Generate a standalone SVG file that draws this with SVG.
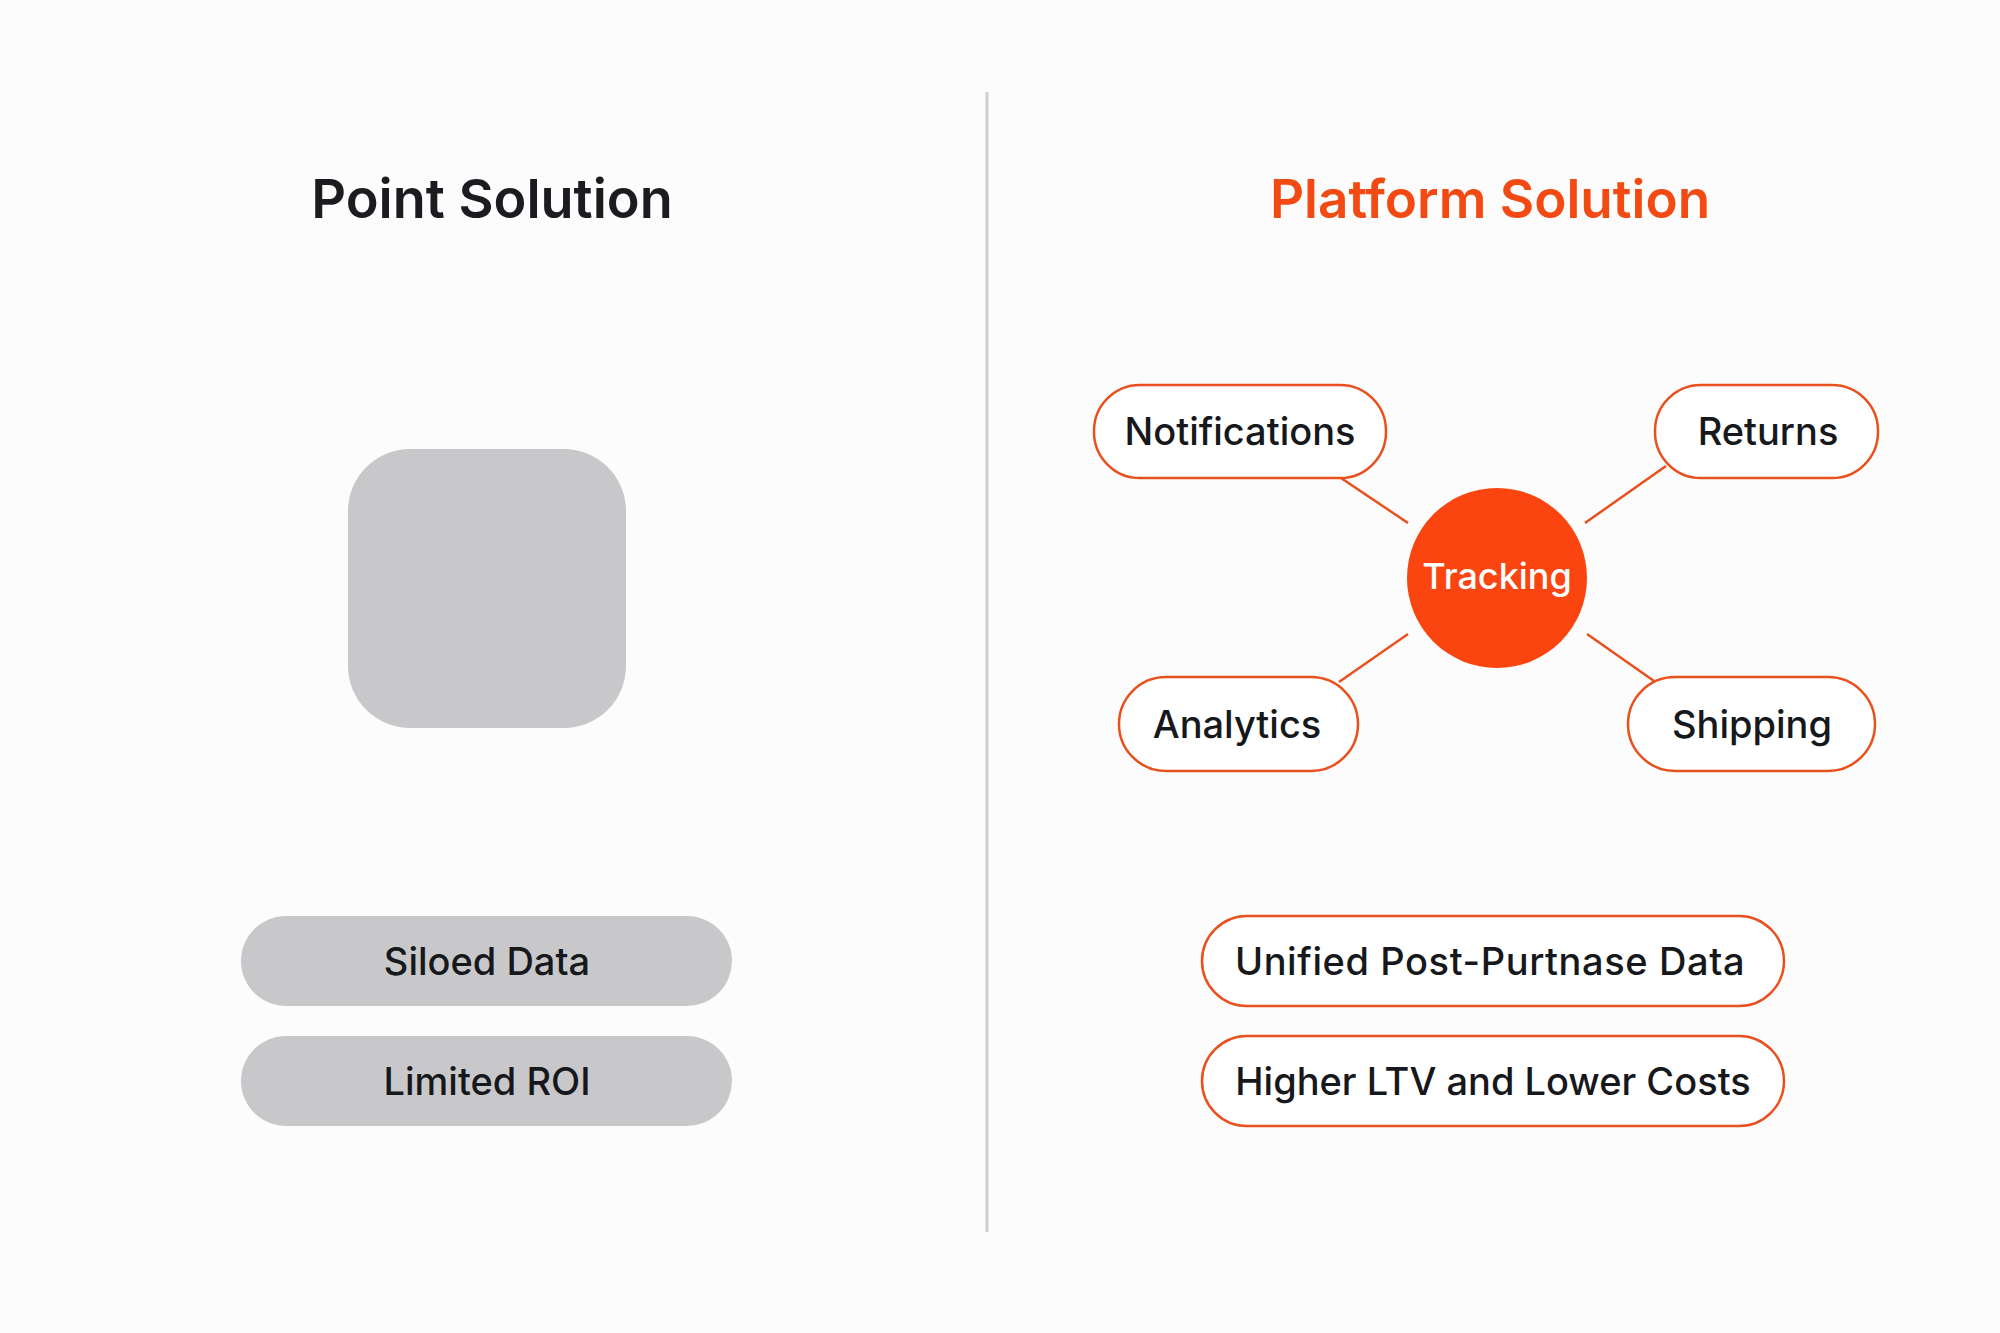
<svg xmlns="http://www.w3.org/2000/svg" width="2000" height="1333" viewBox="0 0 2000 1333">
<style>
.title{font-family:Inter,"Noto Sans","Liberation Sans",sans-serif;font-weight:600;font-size:54px;text-anchor:middle}
.lbl{font-family:Inter,"Noto Sans","Liberation Sans",sans-serif;font-weight:500;font-size:38px;fill:#16181c;text-anchor:middle;dominant-baseline:central}
.grey{fill:#c8c8ca}
.opill{fill:#ffffff;stroke:#e8501e;stroke-width:2.5}
.conn{stroke:#e8501e;stroke-width:2.5;fill:none}
</style>
<rect x="0" y="0" width="2000" height="1333" fill="#fcfcfc"/>
<line x1="987" y1="92" x2="987" y2="1232" stroke="#cfcfcf" stroke-width="3"/>
<g id="title-point"><text class="title" x="492" y="218" fill="#1a1c20">Point Solution</text></g>
<g id="title-platform"><text class="title" x="1490" y="218" fill="#f24a12" style="font-size:53px">Platform Solution</text></g>
<g id="point-box"><rect class="grey" x="348" y="449" width="278" height="279" rx="62"/></g>
<g id="siloed"><rect class="grey" x="241" y="916" width="491" height="90" rx="45"/><text class="lbl" x="487" y="961">Siloed Data</text></g>
<g id="limited"><rect class="grey" x="241" y="1036" width="491" height="90" rx="45"/><text class="lbl" x="487" y="1081">Limited ROI</text></g>
<g id="connectors">
<line class="conn" x1="1341" y1="478" x2="1408" y2="523"/>
<line class="conn" x1="1666" y1="466" x2="1585" y2="523"/>
<line class="conn" x1="1339" y1="682" x2="1408" y2="634"/>
<line class="conn" x1="1587" y1="634" x2="1654" y2="681"/>
</g>
<g id="tracking"><circle cx="1497" cy="578" r="90" fill="#fa4510"/><text class="lbl" x="1497" y="576" fill="#ffffff" style="fill:#ffffff;font-size:36px">Tracking</text></g>
<g id="notifications"><rect class="opill" x="1094" y="385" width="292" height="93" rx="46"/><text class="lbl" x="1240" y="431">Notifications</text></g>
<g id="returns"><rect class="opill" x="1655" y="385" width="223" height="93" rx="46"/><text class="lbl" x="1768" y="431">Returns</text></g>
<g id="analytics"><rect class="opill" x="1119" y="677" width="239" height="94" rx="47"/><text class="lbl" x="1237" y="724">Analytics</text></g>
<g id="shipping"><rect class="opill" x="1628" y="677" width="247" height="94" rx="47"/><text class="lbl" x="1752" y="724">Shipping</text></g>
<g id="unified"><rect class="opill" x="1202" y="916" width="582" height="90" rx="45"/><text class="lbl" x="1490" y="961" style="letter-spacing:0.6px">Unified Post-Purtnase Data</text></g>
<g id="higher"><rect class="opill" x="1202" y="1036" width="582" height="90" rx="45"/><text class="lbl" x="1493" y="1081">Higher LTV and Lower Costs</text></g>
</svg>
